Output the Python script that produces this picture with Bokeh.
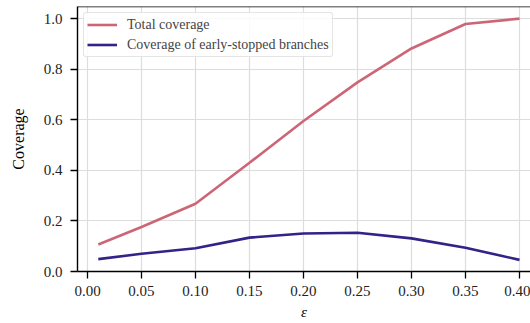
from bokeh.plotting import figure
from bokeh.models import Range1d, FixedTicker, PrintfTickFormatter, Span, Legend, LegendItem
from bokeh.embed import file_html
from bokeh.resources import INLINE

# Data
eps = [0.01, 0.05, 0.10, 0.15, 0.20, 0.25, 0.30, 0.35, 0.40]
total_coverage = [0.107, 0.176, 0.268, 0.430, 0.595, 0.748, 0.882, 0.979, 1.0]
early_stopped = [0.049, 0.070, 0.092, 0.134, 0.150, 0.153, 0.131, 0.094, 0.046]
x_ticks = [0.00, 0.05, 0.10, 0.15, 0.20, 0.25, 0.30, 0.35, 0.40]
y_ticks = [0.0, 0.2, 0.4, 0.6, 0.8, 1.0]

FONT = "Liberation Serif"
Y_END = 1.048

p = figure(width=530, height=323, output_backend="svg", toolbar_location=None,
           x_range=Range1d(-0.00926, 0.4102), y_range=Range1d(0.0, Y_END),
           min_border_left=77, min_border_right=0, min_border_top=6, min_border_bottom=52)
p.outline_line_color = None
p.background_fill_color = "white"
p.border_fill_color = "white"

r1 = p.line(eps, total_coverage, line_color="#CC6677", line_width=2.6)
r2 = p.line(eps, early_stopped, line_color="#332288", line_width=2.6)

top = Span(location=Y_END, dimension="width", line_color="black", line_width=1.6)
p.add_layout(top)

for ax in (p.xaxis[0], p.yaxis[0]):
    ax.axis_line_color = "black"
    ax.axis_line_width = 1.4
    ax.major_tick_line_color = "black"
    ax.major_tick_line_width = 1.3
    ax.major_tick_out = 7
    ax.major_tick_in = 0
    ax.minor_tick_line_color = None
    ax.major_label_text_font = FONT
    ax.major_label_text_font_size = "15px"
    ax.major_label_text_color = "#222222"
    ax.axis_label_text_font = FONT
    ax.axis_label_text_font_style = "normal"
    ax.axis_label_text_color = "black"

p.xaxis.ticker = FixedTicker(ticks=x_ticks)
p.xaxis.formatter = PrintfTickFormatter(format="%.2f")
p.xaxis.major_label_standoff = 7
p.xaxis.axis_label = "ε"
p.xaxis.axis_label_text_font_style = "italic"
p.xaxis.axis_label_text_font_size = "15px"
p.xaxis.axis_label_standoff = 5

p.yaxis.ticker = FixedTicker(ticks=y_ticks)
p.yaxis.formatter = PrintfTickFormatter(format="%.1f")
p.yaxis.major_label_standoff = 8
p.yaxis.axis_label = "Coverage"
p.yaxis.axis_label_text_font_size = "16px"
p.yaxis.axis_label_standoff = 14

p.xgrid.ticker = FixedTicker(ticks=x_ticks)
p.ygrid.ticker = FixedTicker(ticks=y_ticks)
p.grid.grid_line_color = "#dddddd"
p.grid.grid_line_width = 1.2

legend = Legend(items=[LegendItem(label="Total coverage", renderers=[r1]),
                       LegendItem(label="Coverage of early-stopped branches", renderers=[r2])],
                location="top_left")
legend.margin = 6
legend.padding = 3
legend.spacing = 3
legend.label_height = 17
legend.glyph_height = 17
legend.glyph_width = 30
legend.label_standoff = 10
legend.label_text_font = FONT
legend.label_text_font_size = "14px"
legend.border_line_color = "#cccccc"
legend.border_line_width = 1.5
legend.border_radius = 3
legend.background_fill_alpha = 0.85
p.add_layout(legend)

open("out.html", "w").write(file_html(p, INLINE))
